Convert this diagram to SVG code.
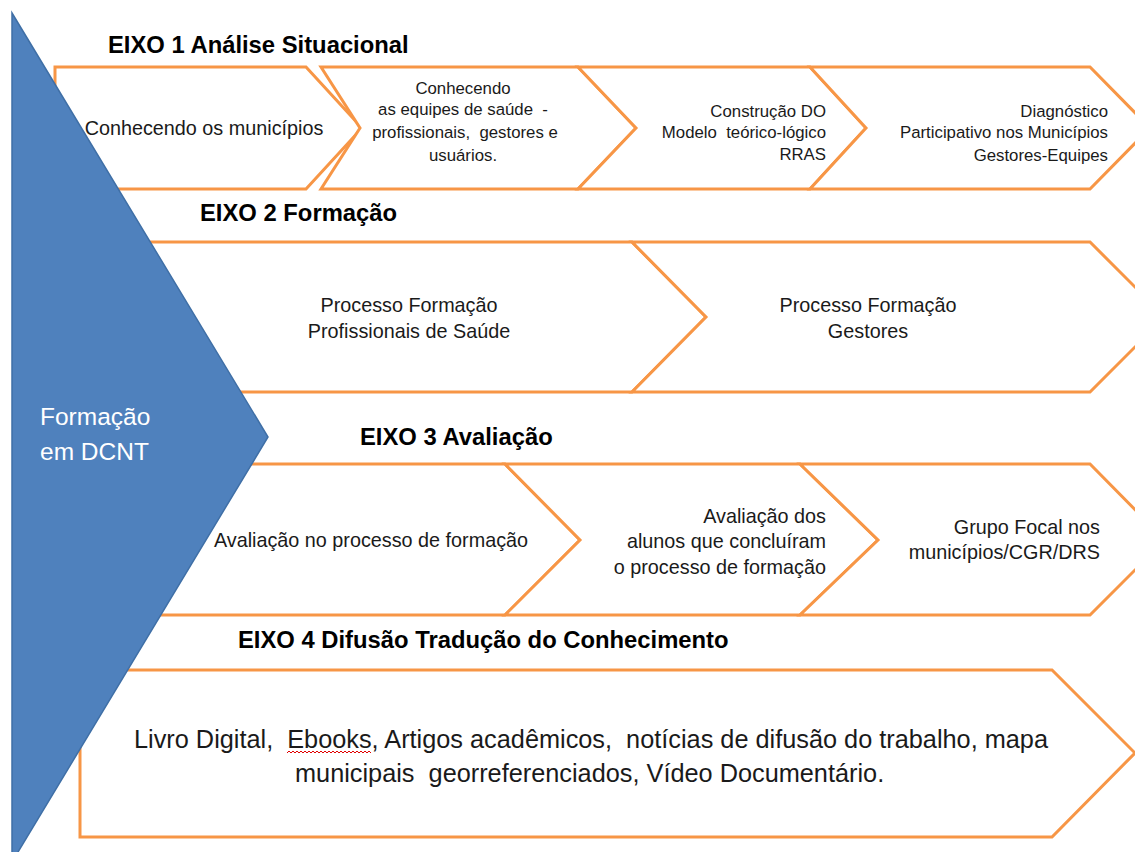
<svg xmlns="http://www.w3.org/2000/svg" width="1135" height="852" viewBox="0 0 1135 852">
<style>
.ch{fill:#fff;stroke:#F79646;stroke-width:3;stroke-linejoin:miter}
.t{font-family:"Liberation Sans",Arial,sans-serif;fill:#1a1a1a;white-space:pre}
.h{font-family:"Liberation Sans",Arial,sans-serif;font-weight:bold;font-size:23.8px;fill:#000;white-space:pre}
.s{font-size:16.8px}
.m{font-size:19.8px}
.l{font-size:25.3px}
.w{font-family:"Liberation Sans",Arial,sans-serif;font-size:24.5px;fill:#fff}
</style>
<rect width="1135" height="852" fill="#fff"/>
<g id="titles">
<text class="h" x="108" y="53">EIXO 1 Análise Situacional</text>
<text class="h" x="200" y="221">EIXO 2 Formação</text>
<text class="h" x="360" y="445">EIXO 3 Avaliação</text>
<text class="h" x="238" y="648">EIXO 4 Difusão Tradução do Conhecimento</text>
</g>
<g id="eixo1">
<g id="e1c1"><polygon class="ch" points="55,67 306,67 362,128 306,189 55,189"/>
<text class="t m" x="204" y="135" text-anchor="middle">Conhecendo os municípios</text></g>
<g id="e1c2"><polygon class="ch" points="321,67 578,67 636,128 578,189 321,189 360,128"/>
<text class="t s" x="463" y="94" text-anchor="middle">Conhecendo</text>
<text class="t s" x="463" y="115" text-anchor="middle">as equipes de saúde  -</text>
<text class="t s" x="465" y="138" text-anchor="middle">profissionais,  gestores e</text>
<text class="t s" x="463" y="161" text-anchor="middle">usuários.</text></g>
<g id="e1c3"><polygon class="ch" points="578,67 810,67 866,128 810,189 578,189 636,128"/>
<text class="t s" x="826" y="117" text-anchor="end">Construção DO</text>
<text class="t s" x="826" y="138" text-anchor="end">Modelo  teórico-lógico</text>
<text class="t s" x="826" y="160" text-anchor="end">RRAS</text></g>
<g id="e1c4"><polygon class="ch" points="810,67 1090,67 1150,128 1090,189 810,189 866,128"/>
<text class="t s" x="1108" y="117" text-anchor="end">Diagnóstico</text>
<text class="t s" x="1108" y="138" text-anchor="end">Participativo nos Municípios</text>
<text class="t s" x="1108" y="161" text-anchor="end">Gestores-Equipes</text></g>
</g>
<g id="eixo2">
<g id="e2c1"><polygon class="ch" points="120,242 632,242 706,317 632,392 120,392"/>
<text class="t m" x="409" y="312" text-anchor="middle">Processo Formação</text>
<text class="t m" x="409" y="338" text-anchor="middle">Profissionais de Saúde</text></g>
<g id="e2c2"><polygon class="ch" points="632,242 1090,242 1165,317 1090,392 632,392 706,317"/>
<text class="t m" x="868" y="312" text-anchor="middle">Processo Formação</text>
<text class="t m" x="868" y="338" text-anchor="middle">Gestores</text></g>
</g>
<g id="eixo3">
<g id="e3c1"><polygon class="ch" points="120,464 505,464 580,540 505,615 120,615"/>
<text class="t m" x="371" y="547" text-anchor="middle">Avaliação no processo de formação</text></g>
<g id="e3c2"><polygon class="ch" points="505,464 800,464 878,540 800,615 505,615 580,540"/>
<text class="t m" x="826" y="523" text-anchor="end">Avaliação dos</text>
<text class="t m" x="826" y="548" text-anchor="end">alunos que concluíram</text>
<text class="t m" x="826" y="574" text-anchor="end">o processo de formação</text></g>
<g id="e3c3"><polygon class="ch" points="800,464 1090,464 1165,540 1090,615 800,615 878,540"/>
<text class="t m" x="1100" y="534" text-anchor="end">Grupo Focal nos</text>
<text class="t m" x="1100" y="559" text-anchor="end">municípios/CGR/DRS</text></g>
</g>
<g id="eixo4">
<polygon class="ch" points="80,670 1052,670 1135,753 1052,837 80,837"/>
<text class="t l" x="134" y="748">Livro Digital,  Ebooks, Artigos acadêmicos,  notícias de difusão do trabalho, mapa</text>
<text class="t l" x="295" y="782">municipais  georreferenciados, Vídeo Documentário.</text>
<path d="M287,753 l2,-2 l2,2 l2,-2 l2,2 l2,-2 l2,2 l2,-2 l2,2 l2,-2 l2,2 l2,-2 l2,2 l2,-2 l2,2 l2,-2 l2,2 l2,-2 l2,2 l2,-2 l2,2 l2,-2 l2,2 l2,-2 l2,2 l2,-2 l2,2 l2,-2 l2,2 l2,-2 l2,2 l2,-2 l2,2 l2,-2 l2,2 l2,-2 l2,2 l2,-2 l2,2 l2,-2 l2,2 l2,-2 l2,2" fill="none" stroke="#e00000" stroke-width="1"/>
</g>
<g id="main">
<polygon points="12,13 268,437 12,862" fill="#4F81BD" stroke="#3F6FA6" stroke-width="1.5"/>
<text class="w" x="40" y="425">Formação</text>
<text class="w" x="40" y="460">em DCNT</text>
</g>
</svg>
